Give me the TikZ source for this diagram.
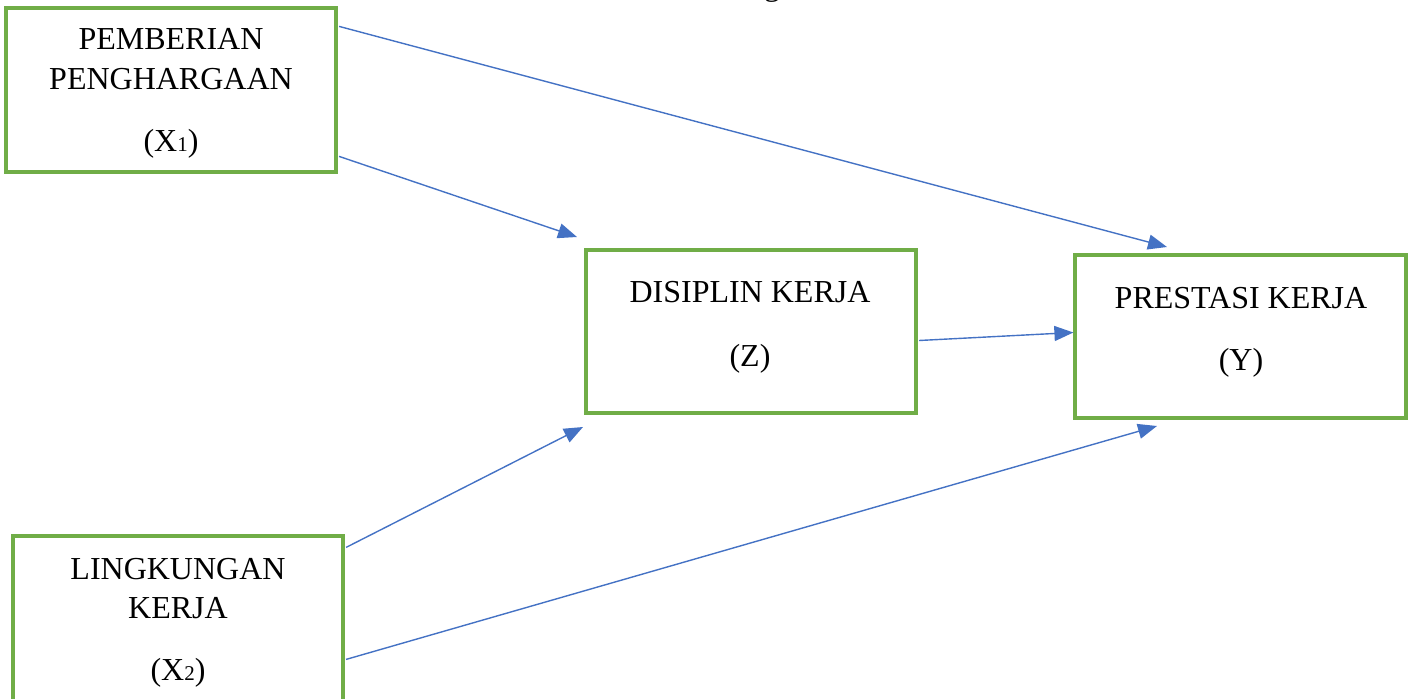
\documentclass[tikz,border=0pt]{standalone}
\usepackage{fontspec}
\setmainfont{Liberation Serif}
\usetikzlibrary{arrows.meta,calc}
\definecolor{boxgreen}{RGB}{112,173,71}
\definecolor{arrowblue}{RGB}{68,114,196}
\newcommand{\subnum}[1]{{\fontsize{21}{21}\selectfont #1}}
\tikzset{
  varbox/.style={draw=boxgreen, line width=3.2pt, rectangle, inner sep=0pt},
  lbl/.style={anchor=base, inner sep=0pt, font=\fontsize{32}{38}\selectfont},
  link/.style={draw=arrowblue, line width=1.4pt, -{Triangle[length=19pt,width=15pt]}}
}
\begin{document}
\begin{tikzpicture}[x=1pt,y=-1pt]
\useasboundingbox (0,0) rectangle (1409,699);
% boxes
\node[varbox, minimum width=330pt, minimum height=164pt] (x1) at (171,90) {};
\node[varbox, minimum width=330pt, minimum height=180pt] (x2) at (178,626) {};
\node[varbox, minimum width=330pt, minimum height=163pt] (z) at (751,331.5) {};
\node[varbox, minimum width=331pt, minimum height=163pt] (y) at (1240.5,336.5) {};
% labels
\node[lbl] (x1a) at (171,49) {PEMBERIAN};
\node[lbl] (x1b) at (171,89) {PENGHARGAAN};
\node[lbl] (x1c) at (171,151) {(X\subnum{1})};
\node[lbl] (x2a) at (178,579) {LINGKUNGAN};
\node[lbl] (x2b) at (178,618) {KERJA};
\node[lbl] (x2c) at (178,680) {(X\subnum{2})};
\node[lbl] (za) at (750,302) {DISIPLIN KERJA};
\node[lbl] (zb) at (750,366) {(Z)};
\node[lbl] (ya) at (1241,308) {PRESTASI KERJA};
\node[lbl] (yb) at (1241,370) {(Y)};
\node[lbl] (cut) at (772,-5) {g};
% arrow end points
\coordinate (t1) at (1167,247);
\coordinate (t2) at (577,237);
\coordinate (t3) at ($(y.west)+(0,-4)$);
\coordinate (t4) at (583,427);
\coordinate (t5) at (1157,426);
% connectors
\draw[link] ($(x1.north east)+(1.5,20)$) -- (t1);
\draw[link] ($(x1.north east)+(1.5,150)$) -- (t2);
\draw[link] ($(z.east)+(1.5,9)$) -- (t3);
\draw[link] ($(x2.north east)+(1.5,13)$) -- (t4);
\draw[link] ($(x2.north east)+(1.5,125)$) -- (t5);
\end{tikzpicture}
\end{document}
